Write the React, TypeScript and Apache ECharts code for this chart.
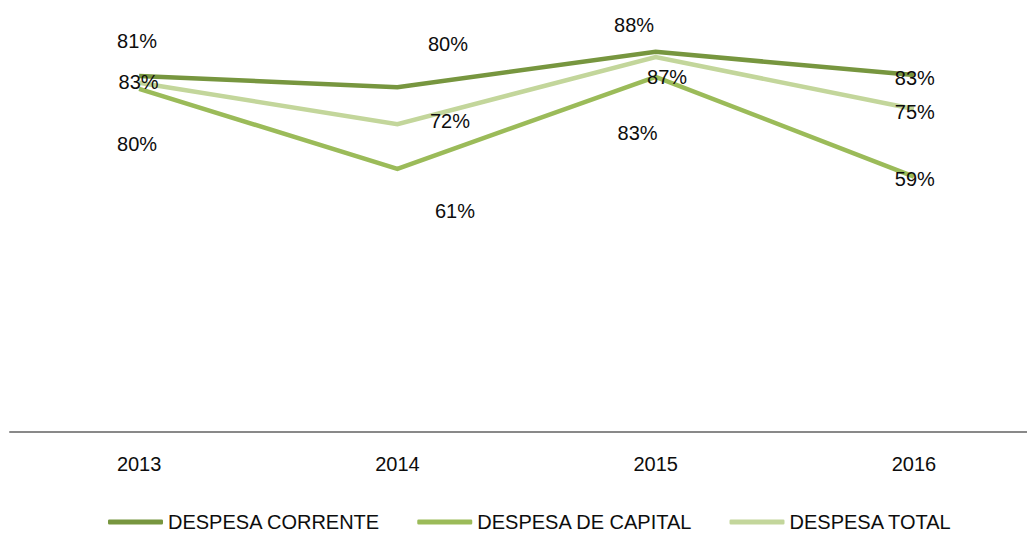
import React, { useEffect, useRef } from "react";
import * as echarts from "echarts";

const years = ["2013", "2014", "2015", "2016"];
const seriesNames = ["DESPESA CORRENTE", "DESPESA DE CAPITAL", "DESPESA TOTAL"];
const despesaCorrente = [82.8, 80.2, 88.4, 83.0];
const despesaCapital = [79.8, 61.2, 82.6, 59.4];
const despesaTotal = [81.2, 71.6, 87.2, 75.1];

// label placement offsets (px) relative to each point, per series
const offsetsCorrente = [[-0.5, 6.5], [50.6, -43.6], [-21.6, -26.9], [1, 3]];
const offsetsCapital = [[-2, 55.6], [57.6, 42.2], [-18, 56.2], [1, 2.4]];
const offsetsTotal = [[-2, -42.3], [52.6, -3.1], [11.4, 20], [1, 2.9]];

const colors = ["#77963f", "#9bbb59", "#c3d69b"];
const FONT = "'Liberation Sans', Arial, sans-serif";

export default function App() {
  const ref = useRef<HTMLDivElement>(null);
  useEffect(() => {
    if (!ref.current) return;
    const chart = echarts.init(ref.current, null, { renderer: "svg" });
    const mk = (name: string, values: number[], offs: number[][], color: string) => ({
      name,
      type: "line",
      showSymbol: true,
      symbol: "circle",
      symbolSize: 0.1,
      lineStyle: { color, width: 4.5, join: "miter" },
      itemStyle: { color },
      z: 2,
      data: values.map((v, i) => ({
        value: [i, v],
        label: {
          show: true,
          position: "inside",
          offset: offs[i],
          formatter: (p: any) => Math.round(p.value[1]) + "%",
          fontSize: 20,
          fontFamily: FONT,
          color: "#0d0d0d",
        },
      })),
    });
    chart.setOption({
      animation: false,
      textStyle: { fontFamily: FONT },
      grid: { left: 10, right: 0, top: 2, bottom: 102, containLabel: false },
      xAxis: {
        type: "value",
        min: -0.5,
        max: 3.438,
        axisTick: { show: false },
        axisLine: { lineStyle: { color: "#898989", width: 2 } },
        axisLabel: {
          fontSize: 20,
          color: "#0d0d0d",
          margin: 22,
          fontFamily: FONT,
          customValues: years.map((_, i) => i),
          formatter: (v: number) => years[Math.round(v)] ?? "",
        },
        splitLine: { show: false },
      },
      yAxis: { type: "value", min: 0, max: 100, show: false },
      legend: {
        left: 108,
        top: 512,
        padding: 0,
        itemWidth: 55,
        itemHeight: 5,
        itemGap: 37,
        icon: "roundRect",
        textStyle: { fontSize: 20, color: "#0d0d0d", fontFamily: FONT },
        data: seriesNames,
      },
      series: [
        mk(seriesNames[0], despesaCorrente, offsetsCorrente, colors[0]),
        mk(seriesNames[1], despesaCapital, offsetsCapital, colors[1]),
        mk(seriesNames[2], despesaTotal, offsetsTotal, colors[2]),
      ],
    });
    return () => chart.dispose();
  }, []);
  return (
    <div
      ref={ref}
      style={{ position: "fixed", left: 0, top: 0, width: 1027, height: 534, background: "#fff" }}
    />
  );
}
